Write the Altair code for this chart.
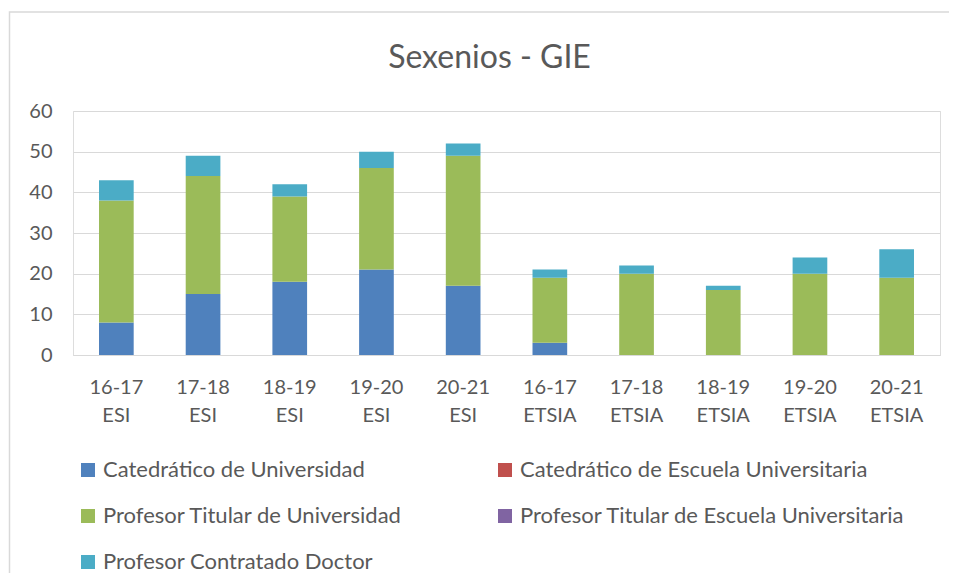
import altair as alt
import pandas as pd

categories = ["16-17 ESI", "17-18 ESI", "18-19 ESI", "19-20 ESI", "20-21 ESI",
              "16-17 ETSIA", "17-18 ETSIA", "18-19 ETSIA", "19-20 ETSIA", "20-21 ETSIA"]
series = ["Catedrático de Universidad", "Catedrático de Escuela Universitaria",
          "Profesor Titular de Universidad", "Profesor Titular de Escuela Universitaria",
          "Profesor Contratado Doctor"]
colors = ["#4F81BD", "#C0504D", "#9BBB59", "#8064A2", "#4BACC6"]

cat_univ = [8, 15, 18, 21, 17, 3, 0, 0, 0, 0]
cat_escuela = [0, 0, 0, 0, 0, 0, 0, 0, 0, 0]
tit_univ = [30, 29, 21, 25, 32, 16, 20, 16, 20, 19]
tit_escuela = [0, 0, 0, 0, 0, 0, 0, 0, 0, 0]
contratado = [5, 5, 3, 4, 3, 2, 2, 1, 4, 7]

values = [cat_univ, cat_escuela, tit_univ, tit_escuela, contratado]
rows = []
for si, (s, vals) in enumerate(zip(series, values)):
    for c, v in zip(categories, vals):
        rows.append({"cat": c, "serie": s, "valor": v, "orden": si})
df = pd.DataFrame(rows)

FONT = "Lato"
GRAY = "#595959"
GRID = "#D9D9D9"

bars = alt.Chart(df).mark_bar().encode(
    x=alt.X("cat:N", sort=categories, title=None,
            scale=alt.Scale(paddingInner=0.6, paddingOuter=0.3),
            axis=alt.Axis(labelExpr="split(datum.label, ' ')", labelAngle=0,
                          ticks=False, domainColor=GRID, domainWidth=1,
                          labelFontSize=20, labelColor=GRAY, labelFont=FONT,
                          labelPadding=22, labelLineHeight=28)),
    y=alt.Y("valor:Q", stack="zero", title=None,
            scale=alt.Scale(domain=[0, 60]),
            axis=alt.Axis(values=[0, 10, 20, 30, 40, 50, 60], domain=False, ticks=False,
                          gridColor=GRID, gridWidth=1, labelFontSize=20,
                          labelColor=GRAY, labelFont=FONT, labelPadding=21)),
    color=alt.Color("serie:N", sort=series,
                    scale=alt.Scale(domain=series, range=colors),
                    legend=alt.Legend(title=None, orient="none", legendX=4, legendY=348,
                                      columns=2, direction="horizontal",
                                      symbolType="square", symbolSize=196,
                                      symbolStrokeWidth=0, labelFontSize=22,
                                      labelColor=GRAY, labelFont=FONT,
                                      rowPadding=24, columnPadding=91,
                                      labelLimit=500, symbolOffset=0)),
    order=alt.Order("orden:Q", sort="ascending"),
)

border = alt.Chart(pd.DataFrame({"a": [0]})).mark_rect(
    fill=None, stroke=GRID, strokeWidth=1.5
).encode(
    x=alt.value(-63.5), x2=alt.value(960), y=alt.value(-99), y2=alt.value(600)
)

chart = alt.layer(border, bars).properties(
    width=867, height=244,
    autosize=alt.AutoSizeParams(type="none"),
    padding={"left": 65, "top": 103, "right": 9, "bottom": 218},
    title=alt.TitleParams("Sexenios - GIE", fontSize=32, font=FONT, color=GRAY,
                          fontWeight="normal", anchor="middle", offset=-64, dx=-17),
).configure_view(stroke=None).configure(background="white")

chart.save("out.html", embed_options={"renderer": "svg", "actions": False})
